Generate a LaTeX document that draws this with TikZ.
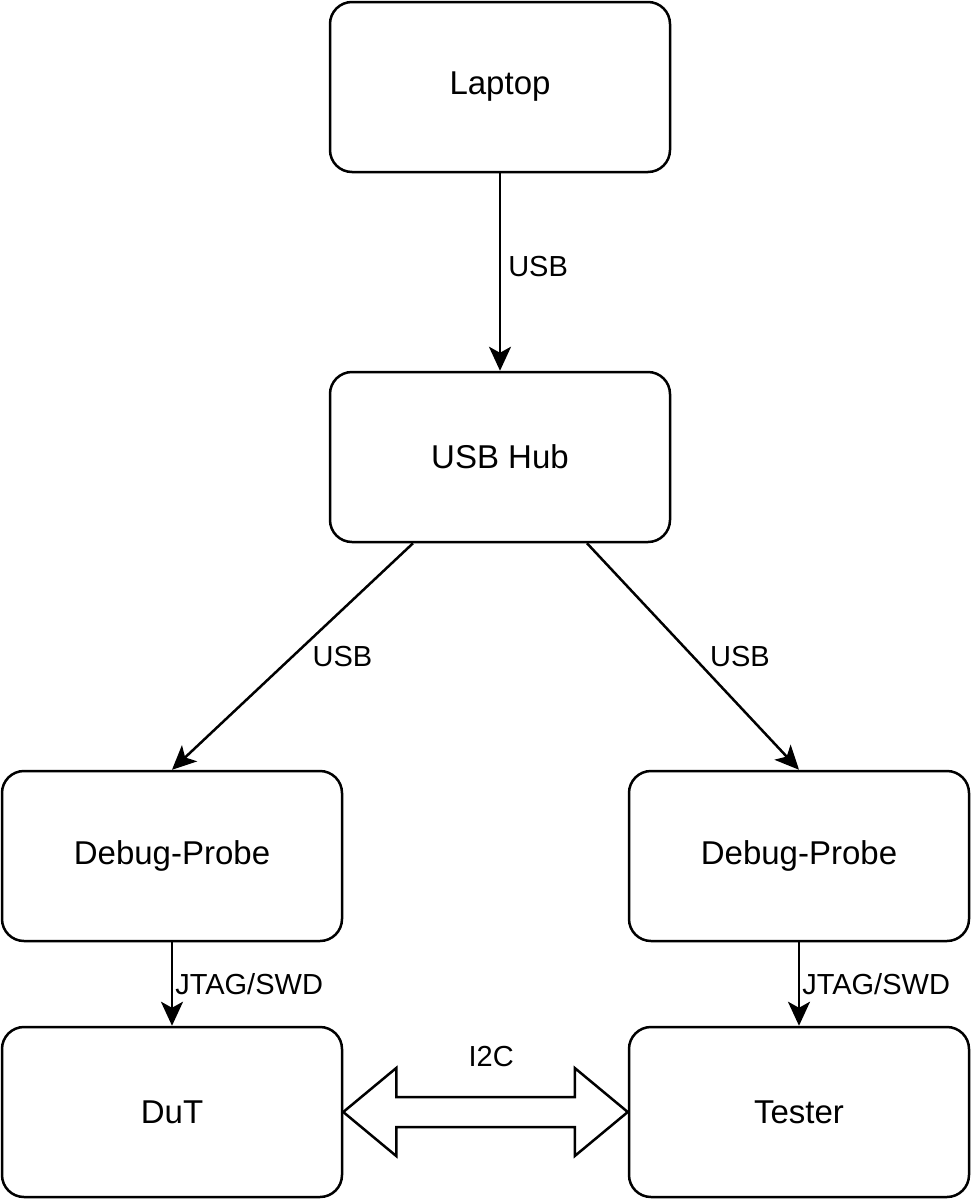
\documentclass[tikz,border=0pt]{standalone}
\usepackage{fontspec}
\setmainfont{Liberation Sans}
\usetikzlibrary{calc,arrows.meta}

\tikzset{
    box/.style={draw,line width=2.5pt,rounded corners=22pt,minimum width=340pt,minimum height=170pt,font=\fontsize{33}{38}\selectfont},
    link/.style={draw,line width=2.5pt,-{Stealth[length=24pt,width=22pt,inset=6pt]}},
    lbl/.style={fill=white,inner sep=2pt,font=\fontsize{29}{34}\selectfont}
}

\begin{document}
\begin{tikzpicture}[x=1pt,y=-1pt]
\useasboundingbox (0,0) rectangle (972,1200);
\begin{scope}[every node/.style={box}]
    \node (laptop) at (500,87) {Laptop};
    \node (hub) at (500,457) {USB Hub};
    \node (probeL) at (172,856) {Debug-Probe};
    \node (probeR) at (799,856) {Debug-Probe};
    \node (dut) at (172,1112) {DuT};
    \node (tester) at (799,1112) {Tester};
\end{scope}
\draw [link] (laptop) -- (hub) node [lbl,pos=0.47,right,xshift=5pt] {USB};
\draw [link] ([xshift=-87pt]hub.south) -- (probeL.north) node [lbl,midway,xshift=50pt] {USB};
\draw [link] ([xshift=87pt]hub.south) -- (probeR.north) node [lbl,midway,xshift=47pt] {USB};
\draw [link] (probeL) -- (dut) node [lbl,midway,right] {JTAG/SWD};
\draw [link] (probeR) -- (tester) node [lbl,midway,right] {JTAG/SWD};
% hollow double arrow
\draw [line width=2.5pt,line join=miter,fill=white] (dut.east) -- ++(53,-44) -- ++(0,29) -- ($(tester.west)+(-53,-15)$)
    -- ++(0,-29) -- (tester.west) -- ++(-53,44) -- ++(0,-29) -- ($(dut.east)+(53,15)$) -- ++(0,29) -- cycle;
\node [lbl] (i2c) at ($(dut.east)!0.52!(tester.west)+(0,-55)$) {I2C};
\end{tikzpicture}
\end{document}
